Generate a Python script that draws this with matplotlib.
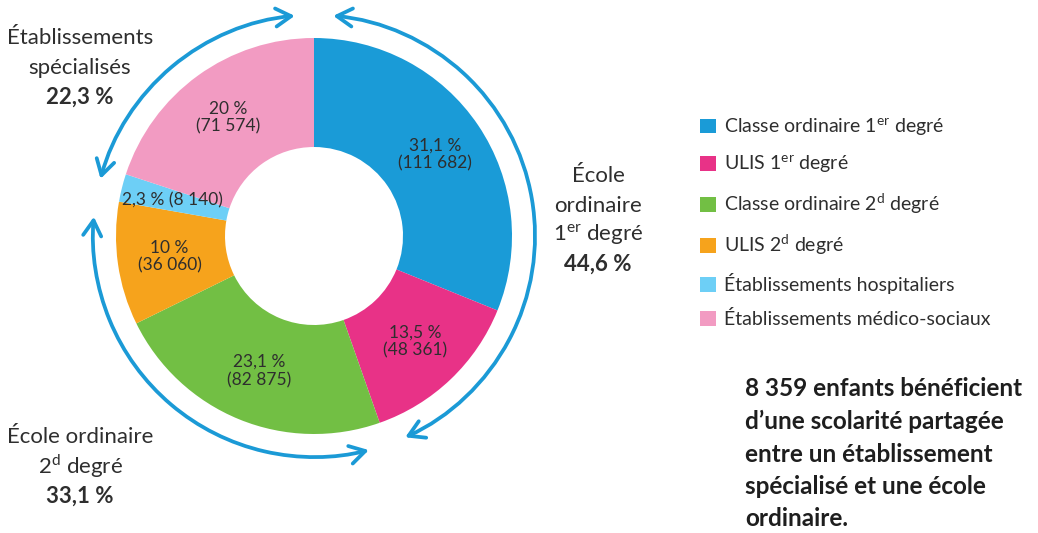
import numpy as np
import matplotlib
matplotlib.use("Agg")
import matplotlib.pyplot as plt
from matplotlib.path import Path
from matplotlib.patches import FancyArrowPatch
from matplotlib.transforms import Affine2D

plt.rcParams['font.family'] = ['Lato', 'DejaVu Sans']
plt.rcParams['mathtext.fontset'] = 'custom'
plt.rcParams['mathtext.rm'] = 'Lato'
plt.rcParams['mathtext.bf'] = 'Lato:bold'

# data
categories = ["Classe ordinaire 1$^{\\rm er}$ degré", "ULIS 1$^{\\rm er}$ degré",
              "Classe ordinaire 2$^{\\rm d}$ degré", "ULIS 2$^{\\rm d}$ degré",
              "Établissements hospitaliers", "Établissements médico-sociaux"]
effectifs = [111682, 48361, 82875, 36060, 8140, 71574]
pct_labels = ["31,1 %", "13,5 %", "23,1 %", "10 %", "2,3 %", "20 %"]
colors = ['#1a9bd7', '#e83287', '#72bf44', '#f6a31c', '#6dcff6', '#f29bc2']

groups = [2, 2, 2]  # nb of slices per group, in pie order
group_lines = [["École", "ordinaire", "1$^{\\rm er}$ degré", "44,6 %"],
               ["École ordinaire", "2$^{\\rm d}$ degré", "33,1 %"],
               ["Établissements", "spécialisés", "22,3 %"]]
note = ["8 359 enfants bénéficient", "d’une scolarité partagée",
        "entre un établissement", "spécialisé et une école", "ordinaire."]

arrow_col = '#1b9ad6'
txt_col = '#2e2e2e'

fig = plt.figure(figsize=(10.38, 5.33), dpi=100)
ax = fig.add_axes([0, 0, 1, 1])

R, hole = 198, 89
wedges, _ = ax.pie(effectifs, radius=R, startangle=90, counterclock=False,
                   colors=colors, wedgeprops=dict(width=R - hole, linewidth=0))
ax.set_xlim(-314, 724)
ax.set_ylim(-297, 236)
ax.set_aspect('equal')
ax.axis('off')

def fmt(n):
    return f"{n:,}".replace(",", " ")

for w, n, p in zip(wedges, effectifs, pct_labels):
    a = np.deg2rad((w.theta1 + w.theta2) / 2)
    x, y = 146 * np.cos(a), 146 * np.sin(a)
    if n / sum(effectifs) < 0.05:
        s = f"{p} ({fmt(n)})"
    else:
        s = f"{p}\n({fmt(n)})"
    ax.text(x, y, s, ha='center', va='center', fontsize=12.5, color=txt_col, linespacing=1.15)

# arrows around each group
Ra, gap = 221, 5
idx = 0
for g in groups:
    t_start = wedges[idx + g - 1].theta1  # end of group (clockwise)
    t_end = wedges[idx].theta2
    idx += g
    arc = Path.arc(t_start + gap, t_end - gap)
    arc = Affine2D().scale(Ra).transform_path(arc)
    ax.add_patch(FancyArrowPatch(path=arc, arrowstyle='<->,head_length=11,head_width=6.5',
                                 color=arrow_col, lw=2.7, shrinkA=0, shrinkB=0,
                                 mutation_scale=1, capstyle='round', joinstyle='round'))

# group labels
positions = [(284, 60), (-234, -201), (-234, 198)]
for (x, y0), lines in zip(positions, group_lines):
    for k, line in enumerate(lines):
        last = k == len(lines) - 1
        ax.text(x, y0 - 29.5 * k, line, ha='center', va='center', fontsize=16,
                color=txt_col, fontweight='bold' if last else 'normal')

for k, line in enumerate(note):
    ax.text(431, -153 - 32.5 * k, line, ha='left', va='center', fontsize=17.5,
            color='#1e1e1e', fontweight='bold')

fig.legend(wedges, categories, loc='upper left', bbox_to_anchor=(700 / 1038, 1 - 116 / 533),
           frameon=False, fontsize=14, handlelength=0.8, handleheight=0.8,
           handletextpad=0.45, labelspacing=0.82, borderpad=0, borderaxespad=0,
           labelcolor=txt_col)

fig.savefig("out.png", dpi=100)
